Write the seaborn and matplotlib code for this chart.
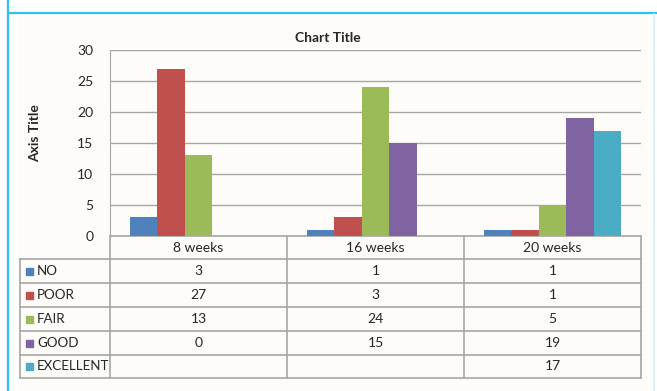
#Importing neccessary packages and libraries
import numpy as np
import pandas as pd
import matplotlib.pyplot as plt
import seaborn as sns

#chart data
weeks = ['8 weeks', '16 weeks', '20 weeks']
ratings = ['NO', 'POOR', 'FAIR', 'GOOD', 'EXCELLENT']
no_vals = [3, 1, 1]
poor_vals = [27, 3, 1]
fair_vals = [13, 24, 5]
good_vals = [0, 15, 19]
excellent_vals = [np.nan, np.nan, 17]
colors = ['#4F81BD', '#C0504D', '#9BBB59', '#8064A2', '#4BACC6']

series = [no_vals, poor_vals, fair_vals, good_vals, excellent_vals]
rows = []
for r, vals in zip(ratings, series):
    for w, v in zip(weeks, vals):
        rows.append({'week': w, 'rating': r, 'value': v})
df = pd.DataFrame(rows)

sns.set_style('white')
plt.rcParams['font.family'] = ['Lato', 'DejaVu Sans']

W, H = 657, 391
fig = plt.figure(figsize=(W / 100, H / 100), dpi=100)
fig.patch.set_facecolor('white')

# page frame and chart background (pixel coordinates)
bg = fig.add_axes([0, 0, 1, 1])
bg.set_xlim(0, W)
bg.set_ylim(H, 0)
bg.axis('off')
bg.add_patch(plt.Rectangle((18, 14), 628, 377, color='#FDFCF9', zorder=0))
bg.plot([8, 8], [0, H], color='#2EC0EE', lw=1.6)
bg.plot([8, W], [13, 13], color='#2EC0EE', lw=1.6)
bg.plot([654, 654], [14, H], color='#D6F0FA', lw=1.2)

# bar plot area
left, right, top, bottom = 110, 641, 50, 236
ax = fig.add_axes([left / W, 1 - bottom / H, (right - left) / W, (bottom - top) / H])
sns.barplot(data=df, x='week', y='value', hue='rating', order=weeks, hue_order=ratings,
            palette=colors, saturation=1, width=0.775, gap=0, ax=ax, legend=False,
            errorbar=None, linewidth=0)
ax.set_facecolor('none')
ax.set_ylim(0, 30)
ax.set_xlim(-0.5, 2.5)
ax.set_yticks(range(0, 31, 5))
ax.tick_params(axis='y', labelsize=10, length=0, pad=12)
ax.set_xticks([])
ax.set_xlabel('')
ax.set_ylabel('')
ax.grid(True, axis='y', color='#A6A6A6', lw=1)
ax.set_axisbelow(True)
for s in ['top', 'right', 'bottom']:
    ax.spines[s].set_visible(False)
ax.spines['left'].set_color('#A6A6A6')

fig.text(328 / W, 1 - 38 / H, 'Chart Title', ha='center', va='center',
         fontsize=10, fontweight='bold')
fig.text(35 / W, 1 - 133 / H, 'Axis Title', ha='center', va='center',
         rotation=90, fontsize=10, fontweight='bold')

# data table below the bars
lc = '#A6A6A6'
col_x = [110, 287, 464, 641]
row_y = [236, 259, 283, 307, 331, 355, 378]
bg.plot([110, 641], [236, 236], color=lc, lw=1.2)
for y in row_y[1:]:
    bg.plot([20, 641], [y, y], color=lc, lw=1.2)
for x in col_x:
    bg.plot([x, x], [236, 378], color=lc, lw=1.2)
bg.plot([20, 20], [259, 378], color=lc, lw=1.2)

for i, w in enumerate(weeks):
    cx = (col_x[i] + col_x[i + 1]) / 2
    bg.text(cx, 248, w, ha='center', va='center', fontsize=10)

for j, (r, vals, c) in enumerate(zip(ratings, series, colors)):
    cy = (row_y[j + 1] + row_y[j + 2]) / 2
    bg.add_patch(plt.Rectangle((26, cy - 3.5), 7, 7, color=c))
    bg.text(37, cy, r, ha='left', va='center', fontsize=9.6)
    for i, v in enumerate(vals):
        if np.isnan(v):
            continue
        cx = (col_x[i] + col_x[i + 1]) / 2
        bg.text(cx, cy, str(int(v)), ha='center', va='center', fontsize=10)

plt.savefig('out.png', dpi=100)
plt.close()
